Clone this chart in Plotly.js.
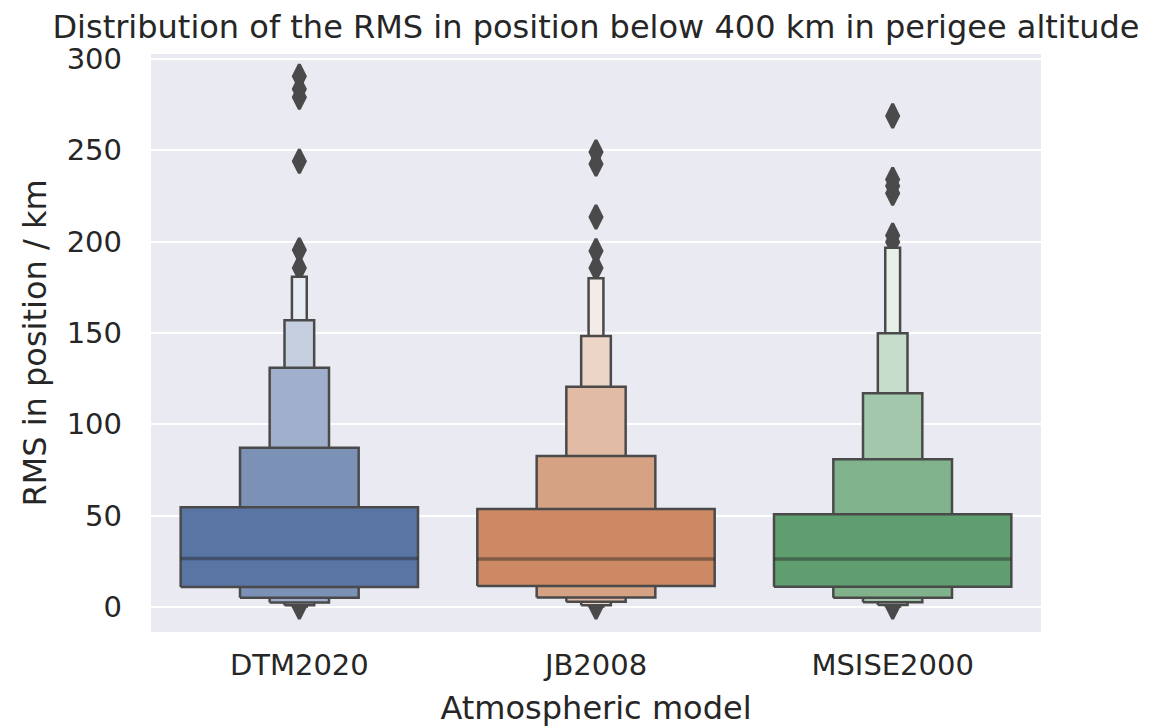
<!DOCTYPE html>
<html>
<head>
<meta charset="utf-8">
<script src="https://cdn.plot.ly/plotly-3.0.1.min.js"></script>
<style>html,body{margin:0;padding:0;background:#fff;}#chart{width:1172px;height:728px;}</style>
</head>
<body>
<div id="chart"></div>
<script>
// ---- data ----
const models = ['DTM2020', 'JB2008', 'MSISE2000'];
// letter values, level 1 = quartiles, then octiles, ...
const dtmLower = [10.9, 5.0, 2.5, 0.9, 0.3];
const dtmUpper = [54.6, 87.2, 130.9, 157.0, 180.8];
const dtmMedian = 26.5;
const dtmOutliers = [0.0, 185.6, 195.4, 244.0, 279.0, 283.5, 290.5];

const jbLower = [11.5, 5.2, 2.8, 1.0, 0.3];
const jbUpper = [53.6, 82.7, 120.6, 148.4, 179.9];
const jbMedian = 26.3;
const jbOutliers = [0.0, 185.6, 194.9, 213.5, 242.5, 249.0];

const msLower = [11.1, 5.1, 2.6, 1.1, 0.3];
const msUpper = [50.8, 80.8, 117.0, 149.8, 196.6];
const msMedian = 26.3;
const msOutliers = [0.0, 199.8, 203.4, 226.5, 230.5, 234.0, 268.8];

const yTicks = [0, 50, 100, 150, 200, 250, 300];

// ---- styles ----
const levelColors = [
  ['#5875a4', '#7b91b6', '#a0b0cc', '#c6cfe0', '#e8ecf3'],
  ['#cc8963', '#d6a284', '#e1bba4', '#ecd5c6', '#f5ebe6'],
  ['#5f9e6e', '#80b28b', '#a3c7ab', '#c5ddca', '#e6f0e8']
];
const edge = '#4a4a4a';
const boxWidth = 0.8;
const txt = '#262626';
const font = 'DejaVu Sans, sans-serif';

const groups = [
  {lower: dtmLower, upper: dtmUpper, median: dtmMedian, outliers: dtmOutliers},
  {lower: jbLower, upper: jbUpper, median: jbMedian, outliers: jbOutliers},
  {lower: msLower, upper: msUpper, median: msMedian, outliers: msOutliers}
];

const traces = [];
// outliers first (drawn beneath boxes)
groups.forEach((g, gi) => {
  traces.push({
    type: 'scatter', mode: 'markers',
    x: g.outliers.map(() => gi), y: g.outliers,
    marker: {symbol: 'diamond-tall', size: 17, color: edge, line: {color: edge, width: 3}},
    hoverinfo: 'skip', showlegend: false
  });
});
// boxes: outermost (narrowest) first, innermost (widest) last
groups.forEach((g, gi) => {
  for (let lv = g.lower.length - 1; lv >= 0; lv--) {
    const w = boxWidth / Math.pow(2, lv);
    const x0 = gi - w / 2, x1 = gi + w / 2;
    const lo = g.lower[lv], hi = g.upper[lv];
    traces.push({
      type: 'scatter', mode: 'lines',
      x: [x0, x1, x1, x0, x0], y: [lo, lo, hi, hi, lo],
      fill: 'toself', fillcolor: levelColors[gi][lv],
      line: {color: edge, width: 2.5},
      hoverinfo: 'skip', showlegend: false
    });
  }
  traces.push({
    type: 'scatter', mode: 'lines',
    x: [gi - boxWidth / 2, gi + boxWidth / 2], y: [g.median, g.median],
    line: {color: 'rgba(38,38,38,0.45)', width: 3.5},
    hoverinfo: 'skip', showlegend: false
  });
});

const layout = {
  width: 1172, height: 728,
  margin: {l: 151, r: 131, t: 54, b: 96, pad: 0},
  paper_bgcolor: '#ffffff', plot_bgcolor: '#eaeaf2',
  font: {family: font, color: txt},
  title: {
    text: 'Distribution of the RMS in position below 400 km in perigee altitude',
    font: {family: font, size: 32, color: txt},
    x: 0.5, xref: 'paper', y: 1, yref: 'paper', yanchor: 'bottom', pad: {b: 16}
  },
  xaxis: {
    range: [-0.5, 2.5],
    tickvals: models.map((_, i) => i), ticktext: models,
    showgrid: false, zeroline: false, showline: false, ticks: '',
    tickfont: {family: font, size: 29, color: txt},
    ticklabelstandoff: 13,
    title: {text: 'Atmospheric model', font: {family: font, size: 32, color: txt}, standoff: 15}
  },
  yaxis: {
    range: [-13.7, 302.7],
    tickvals: yTicks,
    showgrid: true, gridcolor: '#ffffff', gridwidth: 2,
    zeroline: false, showline: false, ticks: '',
    tickfont: {family: font, size: 29, color: txt},
    ticklabelstandoff: 28,
    title: {text: 'RMS in position / km', font: {family: font, size: 32, color: txt}, standoff: 10}
  }
};

Plotly.newPlot('chart', traces, layout, {displayModeBar: false, staticPlot: true});
</script>
</body>
</html>
